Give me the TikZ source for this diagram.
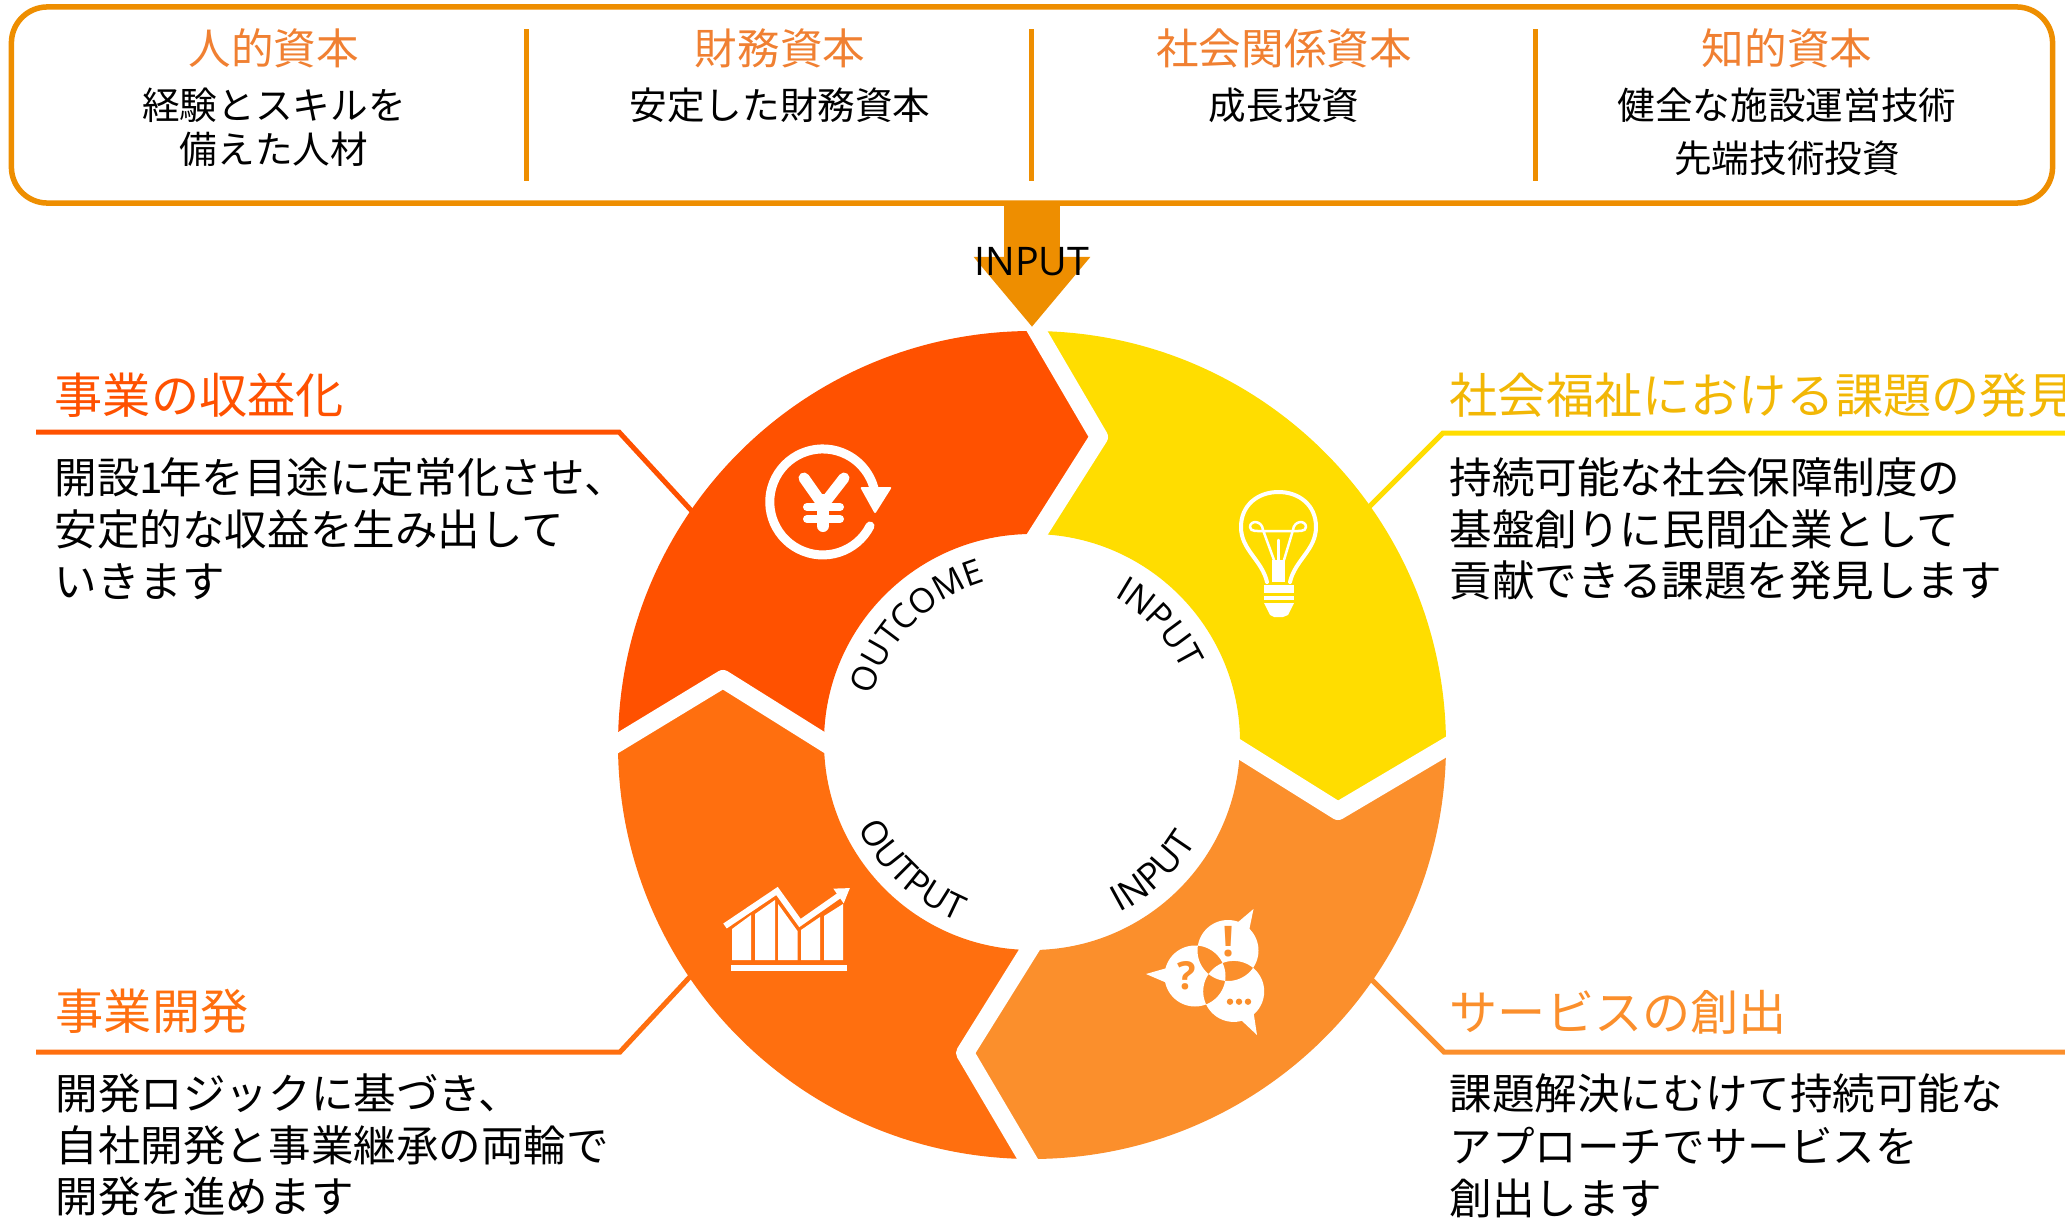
\documentclass[tikz,border=0pt]{standalone}
\usepackage{fontspec}
\setmainfont{Noto Sans CJK JP}
\newfontfamily\latinfont{Open Sans}
\usetikzlibrary{arrows.meta}
\usetikzlibrary{decorations.text}
\usetikzlibrary{positioning}
\definecolor{segred}{HTML}{FF5100}
\definecolor{segorange}{HTML}{FF6F0F}
\definecolor{seglight}{HTML}{FB8F2C}
\definecolor{segyellow}{HTML}{FFDD00}
\definecolor{headyellow}{HTML}{F2B705}
\definecolor{boxline}{HTML}{EE8E00}
\definecolor{capcolor}{HTML}{F08032}
\tikzset{
  capbox/.style={draw=boxline,line width=0.055cm,rounded corners=0.36cm,minimum width=20.4cm,minimum height=1.96cm,inner sep=0},
  capsep/.style={draw=boxline,line width=0.045cm},
  caphead/.style={text=capcolor,inner sep=0,font=\fontsize{12.1}{14}\selectfont},
  captext/.style={anchor=north,align=center,inner sep=0,font=\fontsize{10.7}{#1}\selectfont},
  sidehead/.style={anchor=west,inner sep=0,font=\fontsize{13.7}{16}\selectfont},
  sidetext/.style={anchor=north west,align=left,inner sep=0,font=\fontsize{12.1}{#1}\selectfont},
  callout/.style={line width=0.05cm,line join=miter},
  gapline/.style={draw=white,line width=0.18cm,line join=round},
  iconline/.style={draw=white,line cap=round,line join=round},
  curved/.style 2 args={decorate,decoration={text along path,text align=center,text={|\latinfont\fontsize{#1}{12}\selectfont|#2}}},
}
\begin{document}
\begin{tikzpicture}[x=0.01cm,y=0.01cm]
  \useasboundingbox (0,-1218) rectangle (2065,0);

  %top box
  \node[capbox] (capbox) at (1032,-105) {};
  \coordinate (septopA) at (526.5,-29);
  \coordinate (sepbotA) at (526.5,-181);
  \coordinate (septopB) at (1031.5,-29);
  \coordinate (sepbotB) at (1031.5,-181);
  \coordinate (septopC) at (1535.5,-29);
  \coordinate (sepbotC) at (1535.5,-181);
  \draw[capsep] (septopA) -- (sepbotA);
  \draw[capsep] (septopB) -- (sepbotB);
  \draw[capsep] (septopC) -- (sepbotC);

  \node[caphead] (humanhead) at (274,-48) {人的資本};
  \node[caphead] (moneyhead) at (780,-48) {財務資本};
  \node[caphead] (socialhead) at (1284,-48) {社会関係資本};
  \node[caphead] (knowhead) at (1787,-48) {知的資本};
  \node[captext=12.5] (humantext) at (274,-87) {経験とスキルを\\備えた人材};
  \node[captext=12.5] (moneytext) at (780,-87) {安定した財務資本};
  \node[captext=12.5] (socialtext) at (1284,-87) {成長投資};
  \node[captext=15] (knowtext) at (1787,-87) {健全な施設運営技術\\先端技術投資};

  %callouts, under the ring
  \coordinate (redend) at (36,-432);
  \coordinate (redknee) at (619,-432);
  \coordinate (redfoot) at (700,-520);
  \coordinate (orangeend) at (36,-1052);
  \coordinate (orangeknee) at (620,-1052);
  \coordinate (orangefoot) at (700,-966);
  \coordinate (yellowend) at (2065,-433);
  \coordinate (yellowknee) at (1443,-433);
  \coordinate (yellowfoot) at (1362,-514);
  \coordinate (lightend) at (2065,-1052);
  \coordinate (lightknee) at (1444,-1052);
  \coordinate (lightfoot) at (1362,-970);
  \draw[callout,draw=segred] (redend) -- (redknee) -- (redfoot);
  \draw[callout,draw=segorange] (orangeend) -- (orangeknee) -- (orangefoot);
  \draw[callout,draw=segyellow] (yellowend) -- (yellowknee) -- (yellowfoot);
  \draw[callout,draw=seglight] (lightend) -- (lightknee) -- (lightfoot);

  %ring
  \coordinate (outT) at (1032,-331);
  \coordinate (outR) at (1446,-745);
  \coordinate (outB) at (1032,-1159);
  \coordinate (outL) at (618,-745);
  \coordinate (innT) at (1032,-534);
  \coordinate (innR) at (1240,-742);
  \coordinate (innB) at (1032,-950);
  \coordinate (innL) at (824,-742);
  \coordinate (tipT) at (1099,-437);
  \coordinate (tipR) at (1338,-811);
  \coordinate (tipB) at (965,-1053);
  \coordinate (tipL) at (723,-679);
  \fill[segyellow] (outT) arc[start angle=90,end angle=0,radius=414] -- (tipR) -- (innR) arc[start angle=0,end angle=90,radius=208] -- (tipT) -- cycle;
  \fill[seglight] (outR) arc[start angle=0,end angle=-90,radius=414] -- (tipB) -- (innB) arc[start angle=-90,end angle=0,radius=208] -- (tipR) -- cycle;
  \fill[segorange] (outB) arc[start angle=270,end angle=180,radius=414] -- (tipL) -- (innL) arc[start angle=180,end angle=270,radius=208] -- (tipB) -- cycle;
  \fill[segred] (outL) arc[start angle=180,end angle=90,radius=414] -- (tipT) -- (innT) arc[start angle=90,end angle=180,radius=208] -- (tipL) -- cycle;

  %white cuts
  \draw[gapline] (1030,-319) -- (tipT) -- (1028,-549);
  \draw[gapline] (1458,-740) -- (tipR) -- (1226,-741);
  \draw[gapline] (1034,-1170) -- (tipB) -- (1038,-936);
  \draw[gapline] (606,-750) -- (tipL) -- (838,-751);

  %big arrow
  \coordinate (inputtip) at (1032,-327);
  \draw[draw=boxline,line width=0.56cm,-{Triangle[length=0.7cm,width=1.12cm]}] (capbox.south) -- (inputtip);
  \node[inner sep=0,font=\latinfont\fontsize{11.2}{13}\selectfont] (inputlabel) at (1032,-262) {INPUT};

  %ring labels
  \path[curved={9.7}{OUTCOME}] (1032,-742)++(164:167) arc[start angle=164,end angle=106,radius=167];
  \path[curved={10}{INPUT}] (1032,-742)++(62:167) arc[start angle=62,end angle=24,radius=167];
  \path[curved={10}{OUTPUT}] (1032,-742)++(205:194) arc[start angle=205,end angle=249,radius=194];
  \path[curved={10.3}{INPUT}] (1032,-742)++(-65:192) arc[start angle=-65,end angle=-29,radius=192];

  %yen icon
  \draw[iconline,line width=0.09cm] (870,-526) arc[start angle=-27,end angle=-357,radius=53];
  \fill[white,rounded corners=0.02cm] (860,-487) -- (892,-487) -- (875,-514) -- cycle;
  \draw[iconline,line width=0.11cm] (804,-478) -- (823,-505) -- (844,-478);
  \draw[iconline,line width=0.12cm] (823,-500) -- (823,-526);
  \draw[iconline,line width=0.08cm] (807,-507) -- (840,-507);
  \draw[iconline,line width=0.08cm] (807,-519) -- (840,-519);

  %bulb icon
  \draw[iconline,line width=0.04cm] (1267,-582) .. controls (1262,-560) and (1241,-550) .. (1241,-527) .. controls (1241,-505) and (1258,-492) .. (1278.5,-492) .. controls (1299,-492) and (1316,-505) .. (1316,-527) .. controls (1316,-550) and (1295,-560) .. (1290,-582);
  \draw[iconline,line width=0.025cm] (1274,-560) -- (1263,-530) .. controls (1262,-520) and (1250,-520) .. (1250,-527) .. controls (1250,-532) and (1258,-531) .. (1264,-531) -- (1292,-531) .. controls (1298,-531) and (1306,-532) .. (1306,-527) .. controls (1306,-520) and (1294,-520) .. (1293,-530) -- (1284,-560);
  \draw[iconline,line width=0.025cm] (1278.5,-540) -- (1278.5,-560);
  \fill[white] (1272,-560) rectangle (1285,-582);
  \fill[white] (1264,-585) rectangle (1294,-593);
  \fill[white] (1264,-596) rectangle (1294,-600);
  \fill[white] (1264,-603) -- (1294,-603) -- (1288,-615) -- (1283,-617) -- (1274,-617) -- (1270,-615) -- cycle;

  %chart icon
  \fill[white] (732,-929) -- (751,-915) -- (751,-960) -- (732,-960) -- cycle;
  \fill[white] (755,-914) -- (775,-900) -- (775,-960) -- (755,-960) -- cycle;
  \fill[white] (778,-904) -- (797.5,-931) -- (797.5,-960) -- (778,-960) -- cycle;
  \fill[white] (801,-930) -- (820,-917) -- (820,-960) -- (801,-960) -- cycle;
  \fill[white] (824,-916) -- (843,-904) -- (843,-960) -- (824,-960) -- cycle;
  \fill[white] (731,-965) rectangle (847,-971);
  \draw[draw=white,line width=0.06cm,-{Triangle[length=0.14cm,width=0.17cm]}] (725,-926) -- (777,-891) -- (800,-923) -- (850,-888);

  %talk icon
  \fill[white,even odd rule] (1228,-950.5) circle[radius=30.5] (1195,-976) circle[radius=30.5] (1233.7,-991.4) circle[radius=30.5];
  \fill[white] (1237,-923) -- (1253.5,-909) -- (1249,-931) -- cycle;
  \fill[white] (1167,-968) -- (1146,-974) -- (1167,-983) -- cycle;
  \fill[white] (1241,-1020) -- (1257,-1035) -- (1253.5,-1012) -- cycle;
  \node[inner sep=0,text=seglight,font=\latinfont\bfseries\fontsize{12}{14}\selectfont] (bangmark) at (1229,-942) {!};
  \node[inner sep=0,text=seglight,font=\latinfont\bfseries\fontsize{11}{13}\selectfont] (askmark) at (1187,-976) {?};
  \fill[seglight] (1230,-1001.7) circle[radius=3.2] (1239,-1001.7) circle[radius=3.2] (1248,-1001.7) circle[radius=3.2];

  %side blocks
  \node[sidehead,text=segred] (redhead) at (54,-395) {事業の収益化};
  \node[sidetext=14.7] (redtext) at (54,-457) {開設1\kern-.1em年を目途に定常化させ、\\安定的な収益を生み出して\\いきます};
  \node[sidehead,text=segorange] (orangehead) at (55,-1011) {事業開発};
  \node[sidetext=14.7] (orangetext) at (55,-1073) {開発ロジックに基づき、\\自社開発と事業継承の両輪で\\開発を進めます};
  \node[sidehead,text=headyellow] (yellowhead) at (1449,-395) {社会福祉における課題の発見};
  \node[sidetext=14.7] (yellowtext) at (1449,-457) {持続可能な社会保障制度の\\基盤創りに民間企業として\\貢献できる課題を発見します};
  \node[sidehead,text=seglight] (lighthead) at (1449,-1012) {サービスの創出};
  \node[sidetext=15] (lighttext) at (1449,-1073) {課題解決にむけて持続可能な\\アプローチでサービスを\\創出します};
\end{tikzpicture}
\end{document}
